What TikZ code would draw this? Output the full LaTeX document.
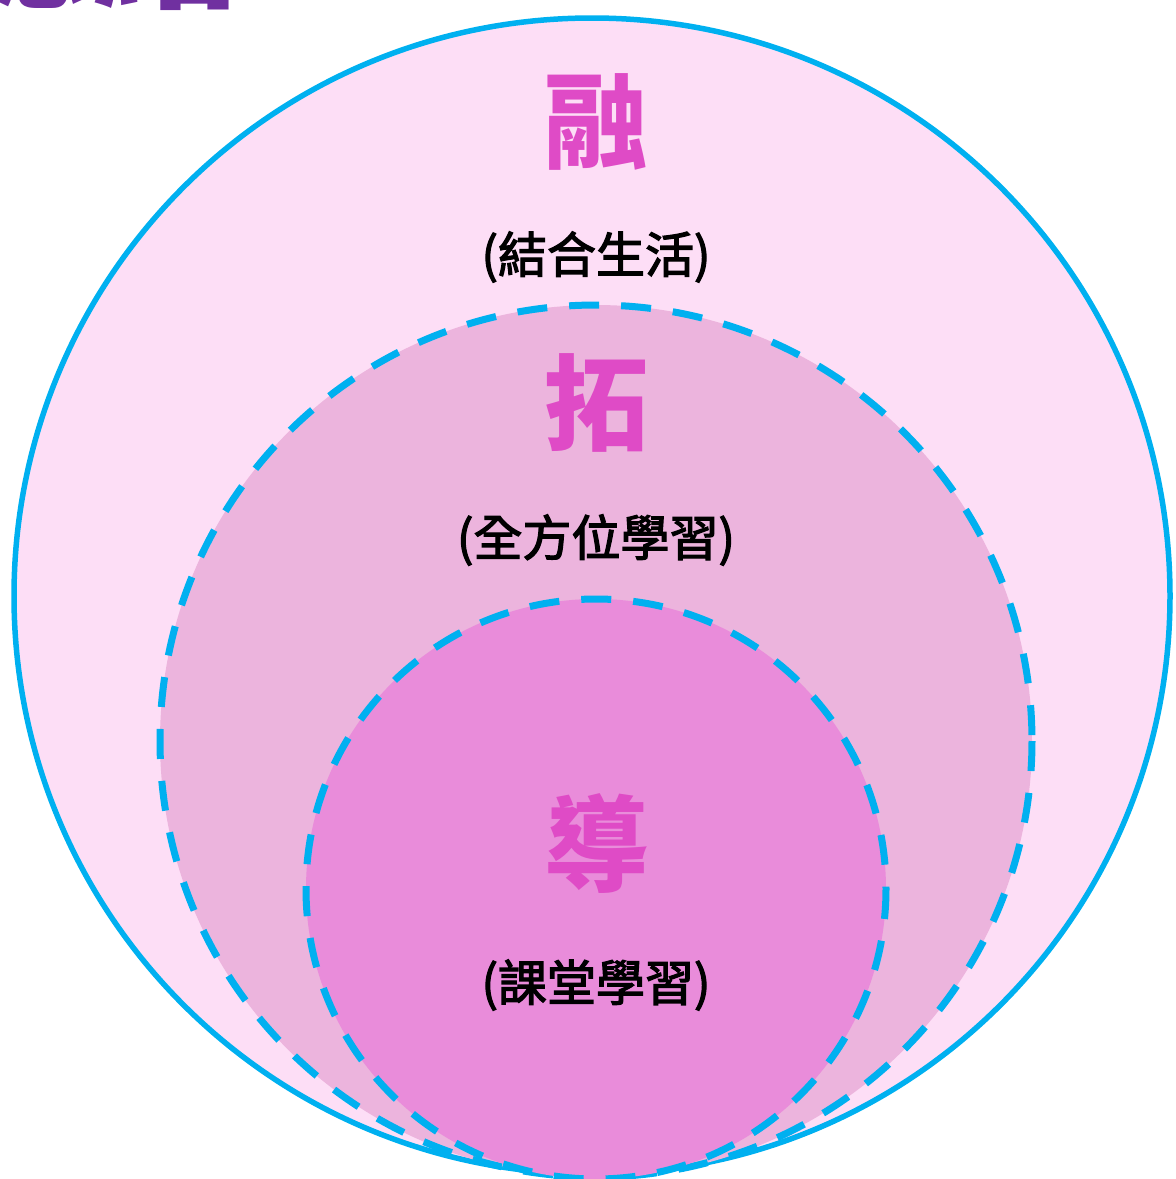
\documentclass[tikz,border=0pt]{standalone}
\usepackage{fontspec}
\setmainfont{Noto Sans CJK TC}
\newfontfamily\labelfont[FakeBold=2.5]{Noto Sans CJK TC}
\usepackage{tikz}

\definecolor{ringblue}{HTML}{00B0F0}
\definecolor{outerfill}{HTML}{FDDEF6}
\definecolor{midfill}{HTML}{ECB4DD}
\definecolor{innerfill}{HTML}{E98CDA}
\definecolor{keyword}{HTML}{DF4BC6}
\definecolor{titlepurple}{HTML}{7030A0}

\begin{document}
\begin{tikzpicture}[x=1pt, y=-1pt,
	ring/.style={draw=ringblue, line width=5.5pt},
	dashring/.style={draw=ringblue, line width=7pt, dash pattern=on 30pt off 22pt},
	bigchar/.style={text=keyword, font=\fontsize{104}{110}\bfseries\selectfont, inner sep=0pt},
	sublabel/.style={text=black, font=\fontsize{49}{56}\labelfont, inner sep=0pt}]
	\useasboundingbox (0,0) rectangle (1176,1179);

	% title, mostly cut off at the top
	\node[anchor=base east, text=titlepurple, inner sep=0pt,
		font=\fontsize{150}{160}\bfseries\selectfont] (title) at (242,-4) {總結};

	% three circles
	\filldraw[ring, fill=outerfill] (592,596) circle [radius=578];
	\filldraw[dashring, fill=midfill] (596,741) circle [radius=436];
	\filldraw[dashring, fill=innerfill] (596,889) circle [radius=290];

	\node[bigchar] (rong) at (596,122) {融};
	\node[sublabel] (life) at (596,257) {(結合生活)};

	\node[bigchar] (tuo) at (596,403) {拓};
	\node[sublabel] (allround) at (596,540) {(全方位學習)};

	\node[bigchar] (dao) at (596,843) {導};
	\node[sublabel] (classroom) at (596,985) {(課堂學習)};
\end{tikzpicture}
\end{document}
